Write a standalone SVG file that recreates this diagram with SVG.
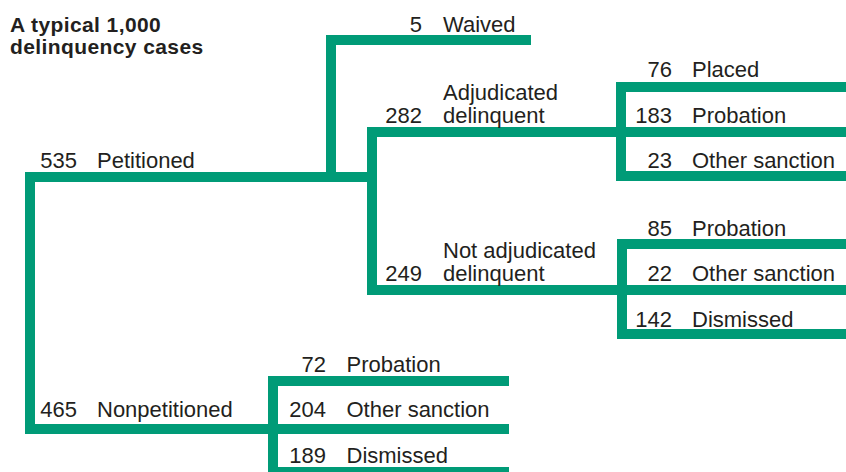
<svg xmlns="http://www.w3.org/2000/svg" width="846" height="472" viewBox="0 0 846 472">
  <style>
    .bg { fill: #ffffff; }
    .branch { fill: none; stroke: #009b77; stroke-width: 10; stroke-linecap: butt; stroke-linejoin: miter; }
    text { font-family: "Liberation Sans", Arial, sans-serif; font-size: 22px; fill: #231f20; }
    .title { font-weight: bold; font-size: 21px; letter-spacing: 0.4px; }
    .num { text-anchor: end; }
  </style>
  <rect class="bg" x="0" y="0" width="846" height="472"/>

  <!-- tree branches -->
  <g id="connectors">
    <path class="branch" d="M509,429 H30 V177 H372"/>
    <path class="branch" d="M331,177 V40 H531"/>
    <path class="branch" d="M846,132 H372 V290 H846"/>
    <path class="branch" d="M846,87 H621 V176 H846"/>
    <path class="branch" d="M846,244 H622 V334 H846"/>
    <path class="branch" d="M509,381 H273 V472 H509"/>
  </g>

  <g id="title">
    <text class="title" x="10" y="32">A typical 1,000</text>
    <text class="title" x="10" y="54">delinquency cases</text>
  </g>

  <g id="petitioned">
    <text class="num" x="77" y="168">535</text>
    <text x="97" y="168">Petitioned</text>
  </g>
  <g id="nonpetitioned">
    <text class="num" x="77" y="417">465</text>
    <text x="97" y="417">Nonpetitioned</text>
  </g>

  <g id="waived">
    <text class="num" x="422" y="32">5</text>
    <text x="443" y="32">Waived</text>
  </g>
  <g id="adjudicated">
    <text class="num" x="422" y="123">282</text>
    <text x="443" y="100">Adjudicated</text>
    <text x="443" y="123">delinquent</text>
  </g>
  <g id="not-adjudicated">
    <text class="num" x="422" y="281">249</text>
    <text x="443" y="258">Not adjudicated</text>
    <text x="443" y="281">delinquent</text>
  </g>

  <g id="adj-placed">
    <text class="num" x="672" y="77">76</text>
    <text x="692" y="77">Placed</text>
  </g>
  <g id="adj-probation">
    <text class="num" x="672" y="123">183</text>
    <text x="692" y="123">Probation</text>
  </g>
  <g id="adj-other">
    <text class="num" x="672" y="168">23</text>
    <text x="692" y="168">Other sanction</text>
  </g>

  <g id="nonadj-probation">
    <text class="num" x="672" y="236">85</text>
    <text x="692" y="236">Probation</text>
  </g>
  <g id="nonadj-other">
    <text class="num" x="672" y="281">22</text>
    <text x="692" y="281">Other sanction</text>
  </g>
  <g id="nonadj-dismissed">
    <text class="num" x="672" y="327">142</text>
    <text x="692" y="327">Dismissed</text>
  </g>

  <g id="nonpet-probation">
    <text class="num" x="326" y="372">72</text>
    <text x="346.5" y="372">Probation</text>
  </g>
  <g id="nonpet-other">
    <text class="num" x="326" y="417">204</text>
    <text x="346.5" y="417">Other sanction</text>
  </g>
  <g id="nonpet-dismissed">
    <text class="num" x="326" y="463">189</text>
    <text x="346.5" y="463">Dismissed</text>
  </g>
</svg>
